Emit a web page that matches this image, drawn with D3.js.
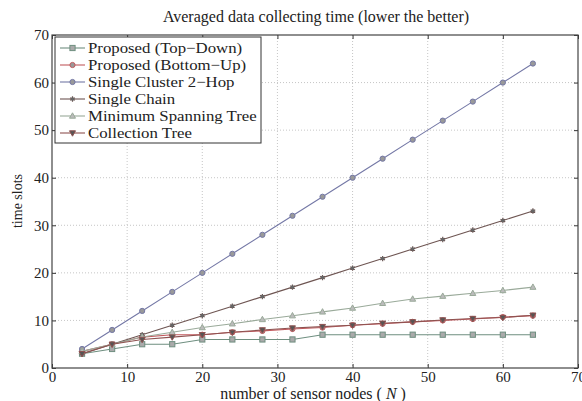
<!DOCTYPE html>
<html>
<head>
<meta charset="utf-8">
<script src="https://cdnjs.cloudflare.com/ajax/libs/d3/7.8.5/d3.min.js"></script>
<style>
  body { margin: 0; background: #fff; }
  text { font-family: "Liberation Serif", "DejaVu Serif", serif; fill: #222; }
</style>
</head>
<body>
<div id="chart"></div>
<script>
// number of sensor nodes N
var nodes = [4, 8, 12, 16, 20, 24, 28, 32, 36, 40, 44, 48, 52, 56, 60, 64];

// time slots per method
var topDown    = [3, 4, 5, 5, 6, 6, 6, 6, 7, 7, 7, 7, 7, 7, 7, 7];
var bottomUp   = [3.5, 5, 6.5, 7, 7, 7.5, 7.8, 8.2, 8.5, 9, 9.3, 9.7, 10, 10.3, 10.7, 11];
var cluster2   = [4, 8, 12, 16, 20, 24, 28, 32, 36, 40, 44, 48, 52, 56, 60, 64];
var chain      = [3, 5, 7, 9, 11, 13, 15, 17, 19, 21, 23, 25, 27, 29, 31, 33];
var mst        = [3.5, 5, 6.5, 7.5, 8.5, 9.3, 10.2, 11, 11.8, 12.6, 13.6, 14.5, 15.1, 15.7, 16.3, 17];
var ctp        = [3, 5, 6, 6.5, 7, 7.5, 8, 8.4, 8.7, 9, 9.4, 9.7, 10.1, 10.4, 10.6, 11.1];

var seriesNames = ["Proposed (Top\u2212Down)", "Proposed (Bottom\u2212Up)", "Single Cluster 2\u2212Hop",
                   "Single Chain", "Minimum Spanning Tree", "Collection Tree"];
var seriesValues = [topDown, bottomUp, cluster2, chain, mst, ctp];
var seriesColors = ["#6f8f80", "#c25a5e", "#7478a6", "#6e5552", "#9aaa9a", "#8e5250"];
var seriesMarks  = ["square", "circle", "circle", "star", "triUp", "triDown"];

var xTicks = [0, 10, 20, 30, 40, 50, 60, 70];
var yTicks = [0, 10, 20, 30, 40, 50, 60, 70];

var margin = {top: 35, right: 4, bottom: 33, left: 52},
  width = 582 - margin.left - margin.right,
  height = 401 - margin.top - margin.bottom;

var svg = d3.select("#chart").append("svg")
  .attr("width", 582)
  .attr("height", 401);

var g = svg.append("g").attr("transform", "translate(" + margin.left + "," + margin.top + ")");

var x = d3.scaleLinear().domain([0, 70]).range([0, width]);
var y = d3.scaleLinear().domain([0, 70]).range([height, 0]);

// dotted grid
g.append("g").selectAll("line.gx").data(xTicks.slice(1, -1)).enter().append("line")
  .attr("x1", function(d){ return x(d); }).attr("x2", function(d){ return x(d); })
  .attr("y1", 0).attr("y2", height)
  .attr("stroke", "#b8b8b8").attr("stroke-width", 0.8).attr("stroke-dasharray", "1,2");
g.append("g").selectAll("line.gy").data(yTicks.slice(1, -1)).enter().append("line")
  .attr("y1", function(d){ return y(d); }).attr("y2", function(d){ return y(d); })
  .attr("x1", 0).attr("x2", width)
  .attr("stroke", "#b8b8b8").attr("stroke-width", 0.8).attr("stroke-dasharray", "1,2");

// axes, ticks pointing inward on all four sides
var xAxis = d3.axisBottom(x).tickValues(xTicks).tickSizeInner(-4).tickSizeOuter(0).tickPadding(8);
var yAxis = d3.axisLeft(y).tickValues(yTicks).tickSizeInner(-4).tickSizeOuter(0).tickPadding(7);

var gx = g.append("g").attr("transform", "translate(0," + height + ")").call(xAxis);
var gy = g.append("g").call(yAxis);
g.append("g").call(d3.axisTop(x).tickValues(xTicks).tickSizeInner(-4).tickSizeOuter(0).tickFormat(""));
g.append("g").attr("transform", "translate(" + width + ",0)")
  .call(d3.axisRight(y).tickValues(yTicks).tickSizeInner(-4).tickSizeOuter(0).tickFormat(""));

g.selectAll(".domain").remove();
g.selectAll(".tick line").attr("stroke", "#333");
gx.selectAll("text").style("font-size", "15px").attr("y", 3).attr("dy", "0.71em");
gy.selectAll("text").style("font-size", "15px").attr("x", -3);

g.append("rect").attr("width", width).attr("height", height)
  .attr("fill", "none").attr("stroke", "#444").attr("stroke-width", 1.2);

// markers
function drawMark(sel, type, color) {
  if (type === "circle") {
    sel.append("circle").attr("r", 2.6).attr("fill", "#999").attr("stroke", color).attr("stroke-width", 1);
  } else if (type === "square") {
    sel.append("rect").attr("x", -2.6).attr("y", -2.6).attr("width", 5.2).attr("height", 5.2)
      .attr("fill", "#aaa").attr("stroke", color).attr("stroke-width", 1);
  } else if (type === "triUp") {
    sel.append("path").attr("d", "M0,-3.2L3,2.2L-3,2.2Z").attr("fill", "#bbb").attr("stroke", color);
  } else if (type === "triDown") {
    sel.append("path").attr("d", "M0,3.2L3,-2.2L-3,-2.2Z").attr("fill", "#555").attr("stroke", color);
  } else {
    sel.append("path").attr("d", d3.symbol(d3.symbolAsterisk, 20)).attr("stroke", color).attr("stroke-width", 1.2);
    sel.append("circle").attr("r", 1.8).attr("fill", "#666");
  }
}

var line = d3.line()
  .x(function(d){ return x(d[0]); })
  .y(function(d){ return y(d[1]); });

seriesValues.forEach(function(vals, i) {
  var pts = nodes.map(function(n, k){ return [n, vals[k]]; });
  g.append("path").datum(pts)
    .attr("fill", "none").attr("stroke", seriesColors[i]).attr("stroke-width", 1.1)
    .attr("d", line);
  pts.forEach(function(p) {
    var m = g.append("g").attr("transform", "translate(" + x(p[0]) + "," + y(p[1]) + ")");
    drawMark(m, seriesMarks[i], seriesColors[i]);
  });
});

// legend
var leg = g.append("g").attr("transform", "translate(3,2)");
leg.append("rect").attr("width", 206).attr("height", 106)
  .attr("fill", "#fff").attr("stroke", "#333").attr("stroke-width", 1);
seriesNames.forEach(function(name, i) {
  var ly = 11 + i * 17;
  var row = leg.append("g").attr("transform", "translate(0," + ly + ")");
  row.append("line").attr("x1", 5).attr("x2", 30).attr("y1", 0).attr("y2", 0)
    .attr("stroke", seriesColors[i]).attr("stroke-width", 1.1);
  var m = row.append("g").attr("transform", "translate(17.5,0)");
  drawMark(m, seriesMarks[i], seriesColors[i]);
  row.append("text").attr("transform", "translate(33,0) scale(1.12,1)")
    .attr("dy", "0.35em").style("font-size", "15px")
    .text(name);
});

// title and labels
svg.append("text").attr("x", 316).attr("y", 16).attr("dy", "0.35em")
  .attr("text-anchor", "middle").style("font-size", "16px")
  .text("Averaged data collecting time (lower the better)");

var xl = svg.append("text").attr("x", 313).attr("y", 393).attr("dy", "0.35em")
  .attr("text-anchor", "middle").style("font-size", "16px");
xl.append("tspan").text("number of sensor nodes ( ");
xl.append("tspan").style("font-style", "italic").text("N");
xl.append("tspan").text(" )");

svg.append("text").attr("transform", "translate(17,201) rotate(-90)")
  .attr("dy", "0.35em").attr("text-anchor", "middle").style("font-size", "14px")
  .text("time slots");
</script>
</body>
</html>
